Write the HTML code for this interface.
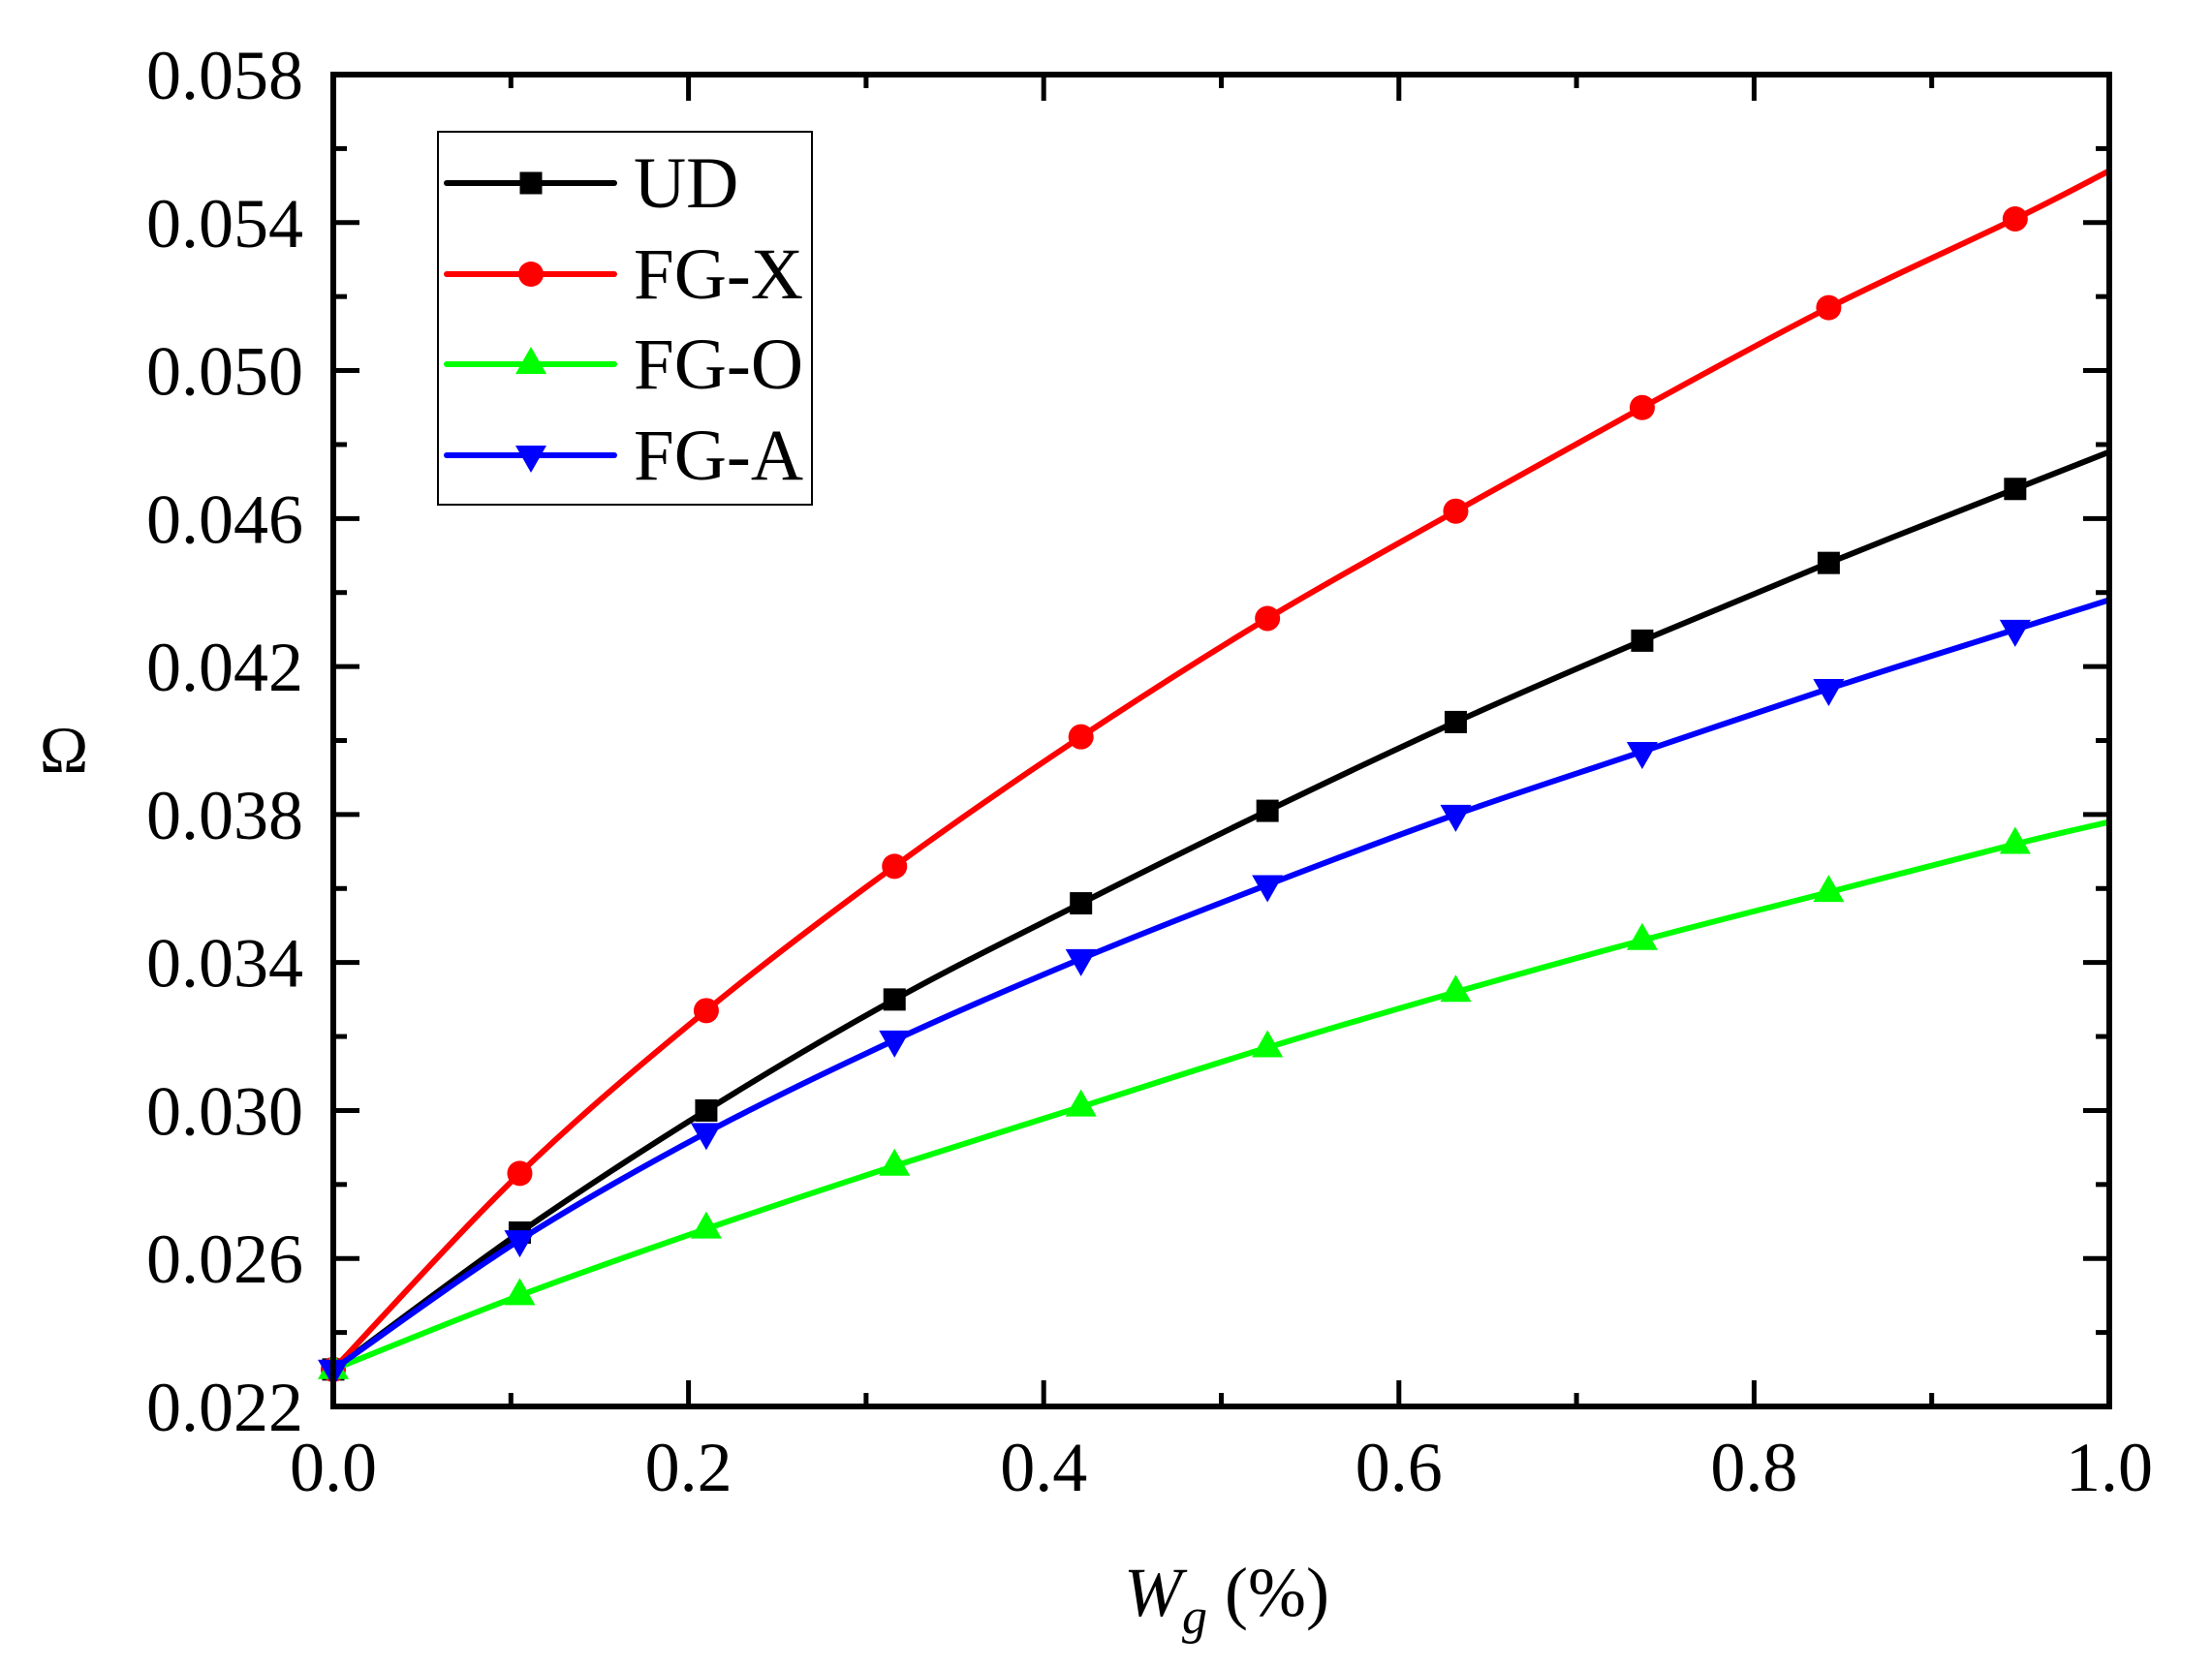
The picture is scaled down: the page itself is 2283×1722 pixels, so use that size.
<!DOCTYPE html>
<html><head><meta charset="utf-8"><style>
html,body{margin:0;padding:0;background:#fff;}
svg{display:block;}
text{font-family:"Liberation Serif",serif;fill:#000;}
</style></head><body>
<svg id="s" width="2283" height="1722" viewBox="0 0 2283 1722" xmlns="http://www.w3.org/2000/svg">
<g id="ticks"></g>
<g id="series"></g>
<rect x="344" y="77" width="1833" height="1375" fill="none" stroke="#000" stroke-width="6"/>
<g id="labels" font-size="72"></g>
<text x="66" y="797" font-size="68" text-anchor="middle">Ω</text>
<text x="1160" y="1668" font-size="72"><tspan font-style="italic">W</tspan><tspan font-style="italic" font-size="52" dy="18">g</tspan><tspan dy="-18"> (%)</tspan></text>
<rect x="452" y="136" width="386" height="385" fill="#fff" stroke="#000" stroke-width="2"/>
<g id="legend"></g>
</svg>
<script>
const NS="http://www.w3.org/2000/svg";
const L=344,R=2177,T=77,B=1452;
const X=v=>L+(R-L)*v, Y=v=>B-(v-0.022)/0.036*(B-T);
function el(p,t,a,txt){const e=document.createElementNS(NS,t);for(const k in a)e.setAttribute(k,a[k]);if(txt!=null)e.textContent=txt;document.getElementById(p).appendChild(e);return e;}
for(let i=0;i<=10;i++){const x=X(i/10),len=i%2==0?27:14;
 el("ticks","line",{x1:x,y1:B,x2:x,y2:B-len,stroke:"#000","stroke-width":5});
 el("ticks","line",{x1:x,y1:T,x2:x,y2:T+len,stroke:"#000","stroke-width":5});
 if(i%2==0) el("labels","text",{x:x,y:1539,"text-anchor":"middle"},(i/10).toFixed(1));}
for(let i=0;i<=18;i++){const v=0.022+i*0.002,y=Y(v),len=i%2==0?27:14;
 el("ticks","line",{x1:L,y1:y,x2:L+len,y2:y,stroke:"#000","stroke-width":5});
 el("ticks","line",{x1:R,y1:y,x2:R-len,y2:y,stroke:"#000","stroke-width":5});
 if(i%2==0) el("labels","text",{x:313,y:y+25,"text-anchor":"end"},v.toFixed(3));}
const xs=[0,0.105,0.21,0.316,0.421,0.526,0.632,0.737,0.842,0.947,1.0];
const S=[
 ["#000","sq",[0.023,0.0267,0.0300,0.0330,0.0356,0.0381,0.0405,0.0427,0.0448,0.0468,0.0478]],
 ["#ff0000","ci",[0.023,0.0283,0.0327,0.0366,0.0401,0.0433,0.0462,0.0490,0.0517,0.0541,0.0554]],
 ["#00ff00","up",[0.023,0.0250,0.0268,0.0285,0.0301,0.0317,0.0332,0.0346,0.0359,0.0372,0.0378]],
 ["#0000ff","dn",[0.023,0.0265,0.0294,0.0319,0.0341,0.0361,0.0380,0.0397,0.0414,0.0430,0.0438]]];
function mk(g,type,x,y,c){
 if(type=="sq")el(g,"rect",{x:x-11.5,y:y-11.5,width:23,height:23,fill:c});
 else if(type=="ci")el(g,"circle",{cx:x,cy:y,r:13,fill:c});
 else if(type=="up")el(g,"polygon",{points:`${x-16},${y+10} ${x+16},${y+10} ${x},${y-18}`,fill:c});
 else el(g,"polygon",{points:`${x-16},${y-10} ${x+16},${y-10} ${x},${y+18}`,fill:c});}
function path(p){let d=`M${p[0][0]},${p[0][1]}`;
 for(let i=0;i<p.length-1;i++){const p0=p[Math.max(i-1,0)],p1=p[i],p2=p[i+1],p3=p[Math.min(i+2,p.length-1)];
  const c1=[p1[0]+(p2[0]-p0[0])/6,p1[1]+(p2[1]-p0[1])/6],c2=[p2[0]-(p3[0]-p1[0])/6,p2[1]-(p3[1]-p1[1])/6];
  d+=` C${c1[0]},${c1[1]} ${c2[0]},${c2[1]} ${p2[0]},${p2[1]}`;}return d;}
S.forEach(([c,t,v])=>{
 el("series","path",{d:path(xs.map((x,i)=>[X(x),Y(v[i])])),fill:"none",stroke:c,"stroke-width":6,"stroke-linejoin":"round"});
 for(let i=0;i<10;i++)mk("series",t,X(xs[i]),Y(v[i]),c);});
const names=["UD","FG-X","FG-O","FG-A"],ly=[189,283,376,470];
S.forEach(([c,t],i)=>{el("legend","line",{x1:461,y1:ly[i],x2:634,y2:ly[i],stroke:c,"stroke-width":6,"stroke-linecap":"round"});
 mk("legend",t,548,ly[i],c);
 el("legend","text",{x:654,y:ly[i]+25,"font-size":75},names[i]);});
</script>
</body></html>
